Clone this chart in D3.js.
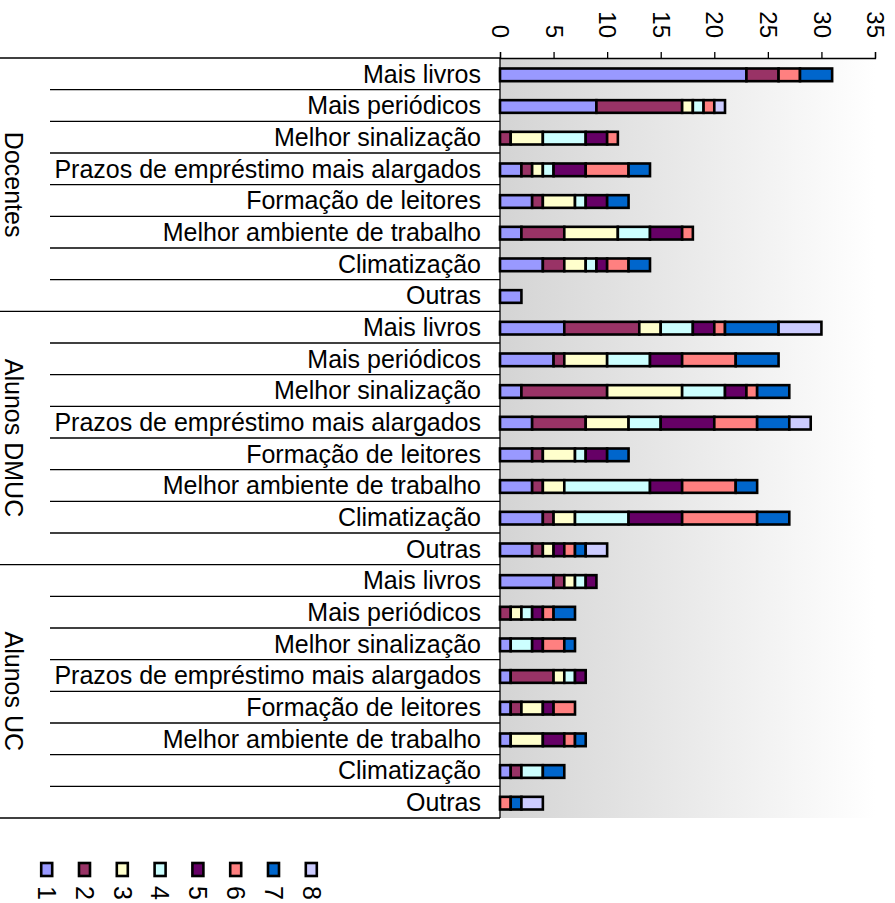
<!DOCTYPE html>
<html>
<head>
<meta charset="utf-8">
<script src="https://cdn.jsdelivr.net/npm/d3@7"></script>
<style>
  html, body { margin: 0; padding: 0; background: #fff; }
  svg { display: block; font-family: "Liberation Sans", Arial, Helvetica, sans-serif; }
</style>
</head>
<body>
<svg id="chart" width="895" height="903"></svg>
<script>
// ---------- DATA ----------
const groups = ["Docentes", "Alunos DMUC", "Alunos UC"];
const categories = [
  "Mais livros",
  "Mais periódicos",
  "Melhor sinalização",
  "Prazos de empréstimo mais alargados",
  "Formação de leitores",
  "Melhor ambiente de trabalho",
  "Climatização",
  "Outras"
];
const seriesNames = ["1", "2", "3", "4", "5", "6", "7", "8"];
const seriesColors = ["#9999FF", "#993366", "#FFFFCC", "#CCFFFF", "#660066", "#FF8080", "#0066CC", "#CCCCFF"];
const tickValues = [0, 5, 10, 15, 20, 25, 30, 35];

// values per series, 24 rows (Docentes x8, Alunos DMUC x8, Alunos UC x8)
const s1 = [23, 9, 0, 2, 3, 2, 4, 2,   6, 5, 2, 3, 3, 3, 4, 3,   5, 0, 1, 1, 1, 1, 1, 0];
const s2 = [ 3, 8, 1, 1, 1, 4, 2, 0,   7, 1, 8, 5, 1, 1, 1, 1,   1, 1, 0, 4, 1, 0, 1, 0];
const s3 = [ 0, 1, 3, 1, 3, 5, 2, 0,   2, 4, 7, 4, 3, 2, 2, 1,   1, 1, 0, 1, 2, 3, 0, 0];
const s4 = [ 0, 1, 4, 1, 1, 3, 1, 0,   3, 4, 4, 3, 1, 8, 5, 0,   1, 1, 2, 1, 0, 0, 2, 0];
const s5 = [ 0, 0, 2, 3, 2, 3, 1, 0,   2, 3, 2, 5, 2, 3, 5, 1,   1, 1, 1, 1, 1, 2, 0, 0];
const s6 = [ 2, 1, 1, 4, 0, 1, 2, 0,   1, 5, 1, 4, 0, 5, 7, 1,   0, 1, 2, 0, 2, 1, 0, 1];
const s7 = [ 3, 0, 0, 2, 2, 0, 2, 0,   5, 4, 3, 3, 2, 2, 3, 1,   0, 2, 1, 0, 0, 1, 2, 1];
const s8 = [ 0, 1, 0, 0, 0, 0, 0, 0,   4, 0, 0, 2, 0, 0, 0, 2,   0, 0, 0, 0, 0, 0, 0, 2];
const seriesValues = [s1, s2, s3, s4, s5, s6, s7, s8];

// ---------- BUILD TABLE ----------
const rows = [];
groups.forEach((g, gi) => {
  categories.forEach((c, ci) => {
    const idx = gi * categories.length + ci;
    const r = { id: g + "|" + c, group: g, category: c };
    seriesNames.forEach((s, si) => { r[s] = seriesValues[si][idx]; });
    rows.push(r);
  });
});

const stacked = d3.stack().keys(seriesNames)(rows);

// ---------- LAYOUT ----------
const svg = d3.select("#chart");
const plotLeft = 500, plotRight = 875, plotTop = 58, plotBottom = 818;
const FONT = 25;
const TICKFONT = 24;

const x = d3.scaleLinear().domain([0, 35]).range([plotLeft, plotRight]);
const y = d3.scaleBand().domain(rows.map(r => r.id)).range([plotTop, plotBottom])
  .paddingInner(0.6).paddingOuter(0.3);
const rowStep = y.step();
const color = d3.scaleOrdinal().domain(seriesNames).range(seriesColors);

// background gradient
const defs = svg.append("defs");
const grad = defs.append("linearGradient").attr("id", "bg").attr("x1", "0%").attr("x2", "100%").attr("y1", "0%").attr("y2", "0%");
grad.append("stop").attr("offset", "0%").attr("stop-color", "#d4d4d4");
grad.append("stop").attr("offset", "100%").attr("stop-color", "#ffffff");

svg.append("rect")
  .attr("x", plotLeft).attr("y", plotTop)
  .attr("width", plotRight - plotLeft).attr("height", plotBottom - plotTop)
  .attr("fill", "url(#bg)");

// separators on the left
const sepG = svg.append("g").attr("stroke", "#000").attr("stroke-width", 1.3);
rows.forEach((r, i) => {
  const yy = y(r.id) - y.paddingInner() * rowStep / 2;
  const isGroupStart = i % categories.length === 0;
  sepG.append("line")
    .attr("x1", isGroupStart ? 0 : 50).attr("x2", plotLeft)
    .attr("y1", yy).attr("y2", yy);
});
sepG.append("line").attr("x1", 0).attr("x2", plotLeft).attr("y1", plotBottom).attr("y2", plotBottom);
sepG.append("line").attr("x1", plotLeft).attr("x2", plotLeft).attr("y1", plotTop).attr("y2", plotBottom);

// bars
const barG = svg.append("g");
stacked.forEach(layer => {
  barG.append("g")
    .attr("fill", color(layer.key))
    .selectAll("rect")
    .data(layer.filter(d => d[1] - d[0] > 0))
    .join("rect")
    .attr("x", d => x(d[0]))
    .attr("y", d => y(d.data.id) + 1)
    .attr("width", d => x(d[1]) - x(d[0]))
    .attr("height", y.bandwidth())
    .attr("stroke", "#000")
    .attr("stroke-width", 2.6);
});

// category labels
svg.append("g").selectAll("text")
  .data(rows)
  .join("text")
  .attr("x", 481)
  .attr("y", d => y(d.id) + y.bandwidth() / 2)
  .attr("dy", "0.35em")
  .attr("text-anchor", "end")
  .attr("font-size", FONT)
  .attr("fill", "#000")
  .text(d => d.category);

// group labels (rotated)
groups.forEach((g, gi) => {
  const first = y(g + "|" + categories[0]) - y.paddingInner() * rowStep / 2;
  const last = y(g + "|" + categories[categories.length - 1]) + y.bandwidth() + y.paddingInner() * rowStep / 2;
  const cy = (first + last) / 2;
  svg.append("text")
    .attr("transform", `translate(14,${cy}) rotate(90)`)
    .attr("text-anchor", "middle")
    .attr("dy", "0.35em")
    .attr("font-size", FONT)
    .text(g);
});

// top axis
const axis = d3.axisTop(x).tickValues(tickValues).tickSize(6).tickSizeOuter(6).tickFormat(d3.format("d"));
const axG = svg.append("g").attr("transform", `translate(0,${plotTop})`).call(axis);
axG.select(".domain").attr("stroke", "#000").attr("stroke-width", 1.3);
axG.selectAll(".tick line").attr("stroke", "#000").attr("stroke-width", 1.3);
axG.selectAll(".tick text")
  .attr("font-size", TICKFONT)
  .attr("font-family", "'Liberation Sans', Arial, sans-serif")
  .attr("fill", "#000")
  .attr("text-anchor", "end")
  .attr("x", 0).attr("y", 0).attr("dy", "0.35em")
  .attr("transform", "translate(0,-20) rotate(90)");

// legend
const lx = d3.scalePoint().domain(seriesNames).range([46.7, 311.3]);
const leg = svg.append("g").selectAll("g")
  .data(seriesNames)
  .join("g")
  .attr("transform", d => `translate(${lx(d)},0)`);
leg.append("rect")
  .attr("x", -5.5).attr("y", 863)
  .attr("width", 11).attr("height", 13)
  .attr("fill", d => color(d))
  .attr("stroke", "#000").attr("stroke-width", 2.6);
leg.append("text")
  .attr("transform", "translate(0,886) rotate(90)")
  .attr("text-anchor", "start")
  .attr("dy", "0.35em")
  .attr("font-size", FONT)
  .text(d => d);
</script>
</body>
</html>
